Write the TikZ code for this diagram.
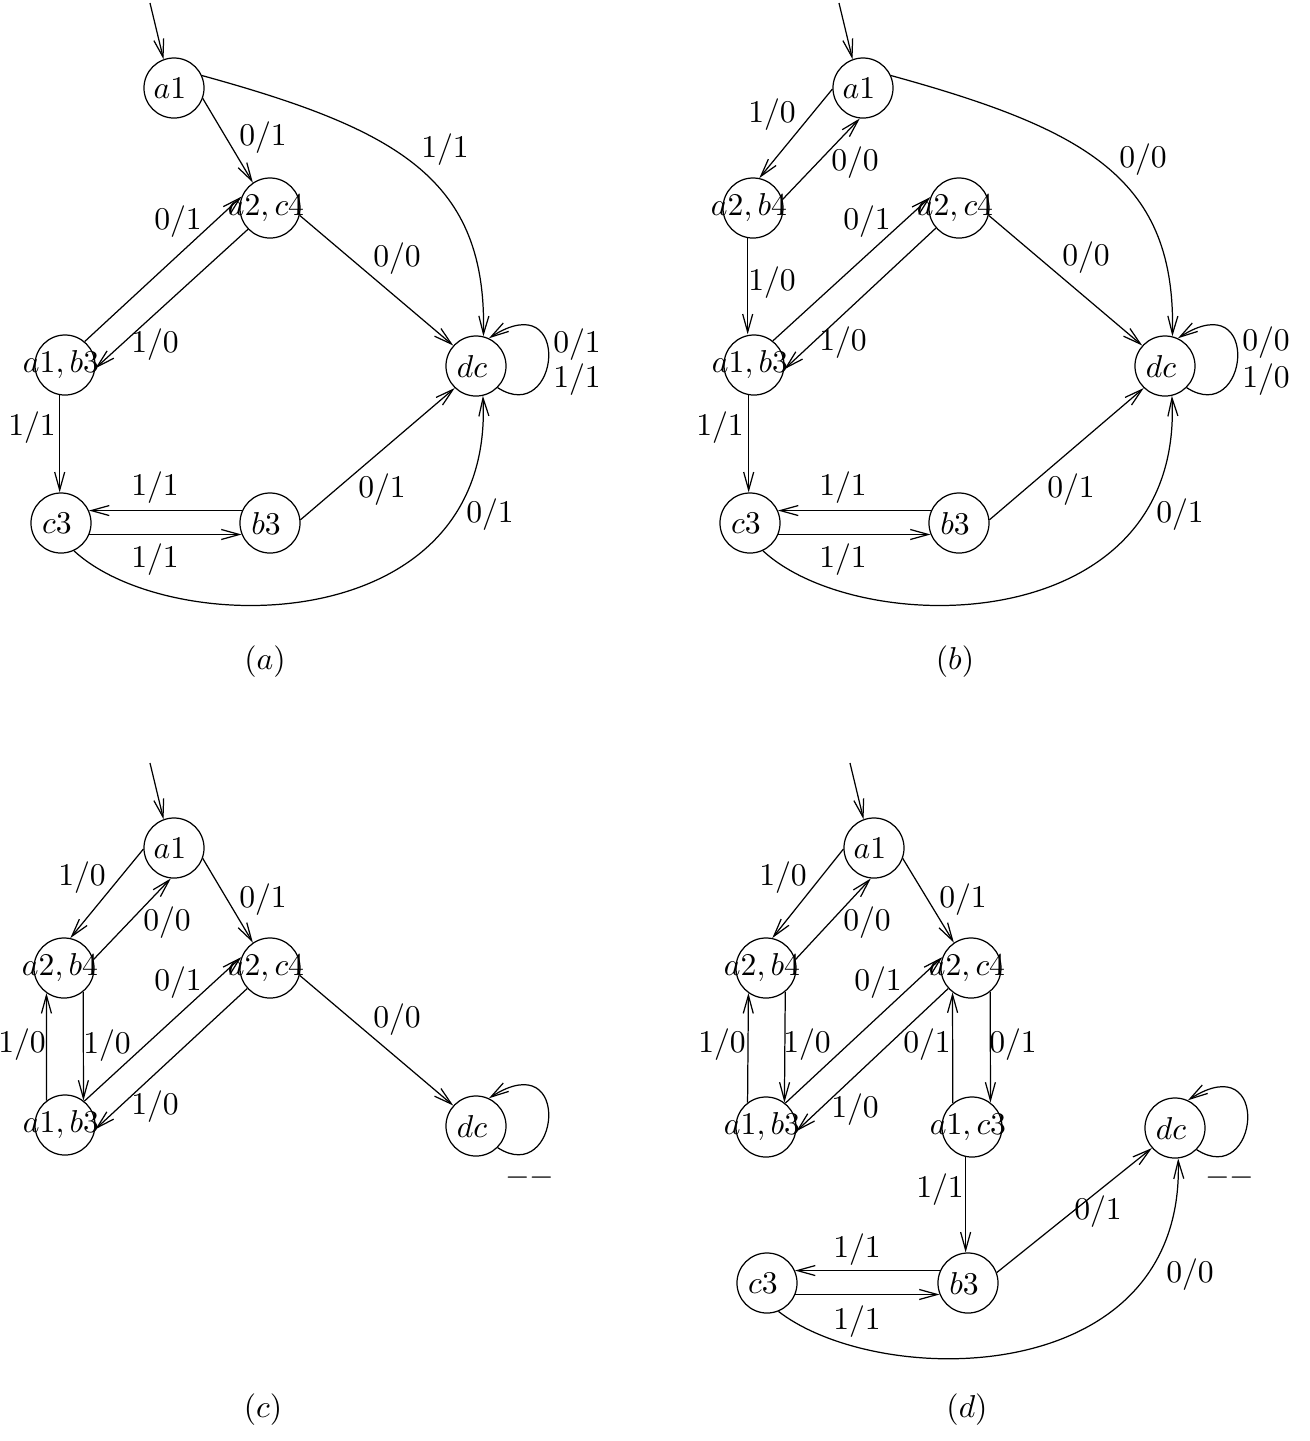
\documentclass[tikz,border=0pt]{standalone}
\usetikzlibrary{arrows.meta}
\newcommand{\lb}[1]{\scalebox{0.9}{$#1$}}
\newcommand{\stt}[1]{\makebox[0pt]{\lb{#1}\kern0.08cm}}
\begin{document}
\begin{tikzpicture}[x=0.01cm,y=-0.01cm,line width=0.35pt,
  st/.style={circle,draw,minimum size=0.6cm,inner sep=0pt},
  edge/.style={draw,-{Straight Barb[length=0.18cm,width=0.1cm]}}]
\useasboundingbox (0,0) rectangle (1310,1441);

% ---------------- (a)
\node[st] (A-a1) at (174,88) {\stt{a1}};
\node[st] (A-ac) at (270,208) {\stt{a2,c4}};
\node[st] (A-ab) at (65,365) {\stt{a1,b3}};
\node[st] (A-dc) at (476,366) {\stt{dc}};
\node[st] (A-c3) at (61,523) {\stt{c3}};
\node[st] (A-b3) at (270,523) {\stt{b3}};
\coordinate (A-in) at (150,3);
\draw[edge] (A-in) -- (A-a1.110);
\draw[edge] (A-a1.-20) -- (A-ac.124);
\draw[edge] (A-a1.24) .. controls (400,130) and (487,180) .. (A-dc.76);
\draw[edge] (A-ac.-14) -- (A-dc.138);
\draw[edge] (A-ab.50) -- (A-ac.158);
\draw[edge] (A-ac.224) -- (A-ab.-6);
\draw[edge] (A-ab.260) -- (A-ab.260 |- A-c3.north);
\draw[edge] (A-b3.156) -- (A-c3.24);
\draw[edge] (A-c3.-22) -- (A-b3.202);
\draw[edge] (A-b3.6) -- (A-dc.226);
\draw[edge] (A-c3.-65) .. controls (170,640) and (495,640) .. (A-dc.283);
\draw[edge] (A-dc.-45) .. controls +(62,40) and +(85,-55) .. (A-dc.65);
\node (A-l1) at (263,138) {\lb{0/1}};
\node (A-l2) at (445,150) {\lb{1/1}};
\node (A-l3) at (397,259) {\lb{0/0}};
\node (A-l4) at (178,222) {\lb{0/1}};
\node (A-l5) at (155,345) {\lb{1/0}};
\node (A-l6) at (32,428) {\lb{1/1}};
\node (A-l7) at (155,488) {\lb{1/1}};
\node (A-l8) at (155,560) {\lb{1/1}};
\node (A-l9) at (382,490) {\lb{0/1}};
\node (A-l10) at (490,515) {\lb{0/1}};
\node (A-l11) at (577,345) {\lb{0/1}};
\node (A-l12) at (577,380) {\lb{1/1}};
\node (A-cap) at (265,662) {\lb{(a)}};

% ---------------- (b)
\node[st] (B-a1) at (863,88) {\stt{a1}};
\node[st] (B-ab4) at (753,208) {\stt{a2,b4}};
\node[st] (B-ac) at (959,208) {\stt{a2,c4}};
\node[st] (B-ab) at (754,365) {\stt{a1,b3}};
\node[st] (B-dc) at (1165,366) {\stt{dc}};
\node[st] (B-c3) at (750,523) {\stt{c3}};
\node[st] (B-b3) at (959,523) {\stt{b3}};
\coordinate (B-in) at (839,3);
\draw[edge] (B-in) -- (B-a1.110);
\draw[edge] (B-a1.182) -- (B-ab4.78);
\draw[edge] (B-ab4.16) -- (B-a1.264);
\draw[edge] (B-ab4.260) -- (B-ab4.260 |- B-ab.north);
\draw[edge] (B-ab.52) -- (B-ac.159);
\draw[edge] (B-ac.221) -- (B-ab.-8);
\draw[edge] (B-a1.24) .. controls (1089,130) and (1176,180) .. (B-dc.76);
\draw[edge] (B-ac.-14) -- (B-dc.138);
\draw[edge] (B-ab.260) -- (B-ab.260 |- B-c3.north);
\draw[edge] (B-b3.156) -- (B-c3.24);
\draw[edge] (B-c3.-22) -- (B-b3.202);
\draw[edge] (B-b3.6) -- (B-dc.226);
\draw[edge] (B-c3.-65) .. controls (859,640) and (1184,640) .. (B-dc.283);
\draw[edge] (B-dc.-45) .. controls +(62,40) and +(85,-55) .. (B-dc.65);
\node (B-l1) at (772,115) {\lb{1/0}};
\node (B-l2) at (855,163) {\lb{0/0}};
\node (B-l3) at (772,283) {\lb{1/0}};
\node (B-l4) at (867,222) {\lb{0/1}};
\node (B-l5) at (843,343) {\lb{1/0}};
\node (B-l6) at (1143,160) {\lb{0/0}};
\node (B-l7) at (1086,258) {\lb{0/0}};
\node (B-l8) at (720,428) {\lb{1/1}};
\node (B-l9) at (843,488) {\lb{1/1}};
\node (B-l10) at (843,560) {\lb{1/1}};
\node (B-l11) at (1071,490) {\lb{0/1}};
\node (B-l12) at (1180,515) {\lb{0/1}};
\node (B-l13) at (1266,343) {\lb{0/0}};
\node (B-l14) at (1266,380) {\lb{1/0}};
\node (B-cap) at (955,662) {\lb{(b)}};

% ---------------- (c)
\node[st] (C-a1) at (174,848) {\stt{a1}};
\node[st] (C-ab4) at (64,968) {\stt{a2,b4}};
\node[st] (C-ac) at (270,968) {\stt{a2,c4}};
\node[st] (C-ab) at (65,1125) {\stt{a1,b3}};
\node[st] (C-dc) at (476,1126) {\stt{dc}};
\coordinate (C-in) at (150,763);
\draw[edge] (C-in) -- (C-a1.110);
\draw[edge] (C-a1.182) -- (C-ab4.78);
\draw[edge] (C-ab4.16) -- (C-a1.264);
\draw[edge] (C-a1.-20) -- (C-ac.124);
\draw[edge] (C-ab4.-51) -- (C-ab.53);
\draw[edge] (C-ab.127) -- (C-ab4.235);
\draw[edge] (C-ab.51) -- (C-ac.159);
\draw[edge] (C-ac.222) -- (C-ab.-8);
\draw[edge] (C-ac.-14) -- (C-dc.138);
\draw[edge] (C-dc.-45) .. controls +(62,40) and +(85,-55) .. (C-dc.65);
\node (C-l1) at (82,878) {\lb{1/0}};
\node (C-l2) at (167,923) {\lb{0/0}};
\node (C-l3) at (263,900) {\lb{0/1}};
\node (C-l4) at (107,1046) {\lb{1/0}};
\node (C-l5) at (22,1045) {\lb{1/0}};
\node (C-l6) at (178,983) {\lb{0/1}};
\node (C-l7) at (155,1107) {\lb{1/0}};
\node (C-l8) at (397,1020) {\lb{0/0}};
\node (C-l9) at (530,1178) {\lb{--}};
\node (C-cap) at (263,1410) {\lb{(c)}};

% ---------------- (d)
\node[st] (D-a1) at (874,848) {\stt{a1}};
\node[st] (D-ab4) at (766,968) {\stt{a2,b4}};
\node[st] (D-ac) at (971,968) {\stt{a2,c4}};
\node[st] (D-ab) at (766,1127) {\stt{a1,b3}};
\node[st] (D-ac3) at (972,1127) {\stt{a1,c3}};
\node[st] (D-dc) at (1175,1128) {\stt{dc}};
\node[st] (D-c3) at (767,1283) {\stt{c3}};
\node[st] (D-b3) at (968,1283) {\stt{b3}};
\coordinate (D-in) at (850,763);
\draw[edge] (D-in) -- (D-a1.110);
\draw[edge] (D-a1.182) -- (D-ab4.78);
\draw[edge] (D-ab4.16) -- (D-a1.264);
\draw[edge] (D-a1.-20) -- (D-ac.124);
\draw[edge] (D-ab4.-51) -- (D-ab.53);
\draw[edge] (D-ab.127) -- (D-ab4.235);
\draw[edge] (D-ab.51) -- (D-ac.159);
\draw[edge] (D-ac.222) -- (D-ab.-8);
\draw[edge] (D-ac.-51) -- (D-ac3.53);
\draw[edge] (D-ac3.129) -- (D-ac.233);
\draw[edge] (D-ac3.258) -- (D-ac3.258 |- D-b3.north);
\draw[edge] (D-b3.156) -- (D-c3.24);
\draw[edge] (D-c3.-22) -- (D-b3.202);
\draw[edge] (D-b3.20) -- (D-dc.221);
\draw[edge] (D-c3.-68) .. controls (880,1390) and (1185,1390) .. (D-dc.-84);
\draw[edge] (D-dc.-45) .. controls +(62,40) and +(85,-55) .. (D-dc.65);
\node (D-l1) at (783,878) {\lb{1/0}};
\node (D-l2) at (867,923) {\lb{0/0}};
\node (D-l3) at (963,900) {\lb{0/1}};
\node (D-l4) at (722,1045) {\lb{1/0}};
\node (D-l5) at (807,1045) {\lb{1/0}};
\node (D-l6) at (878,983) {\lb{0/1}};
\node (D-l7) at (855,1110) {\lb{1/0}};
\node (D-l8) at (927,1045) {\lb{0/1}};
\node (D-l9) at (1013,1045) {\lb{0/1}};
\node (D-l10) at (940,1190) {\lb{1/1}};
\node (D-l11) at (857,1250) {\lb{1/1}};
\node (D-l12) at (857,1322) {\lb{1/1}};
\node (D-l13) at (1098,1212) {\lb{0/1}};
\node (D-l14) at (1190,1275) {\lb{0/0}};
\node (D-l15) at (1230,1178) {\lb{--}};
\node (D-cap) at (967,1410) {\lb{(d)}};
\end{tikzpicture}
\end{document}
